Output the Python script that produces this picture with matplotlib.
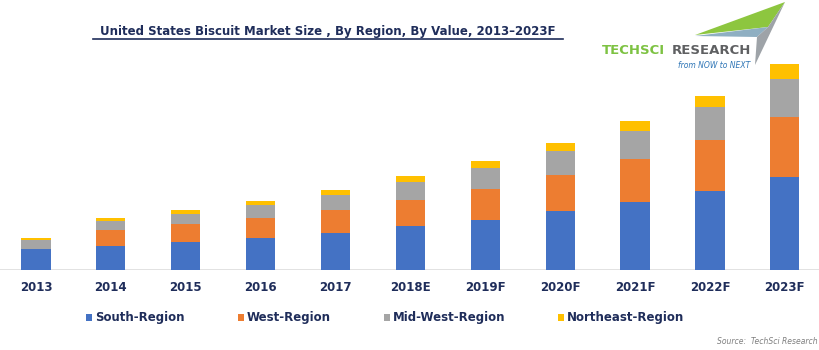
import matplotlib
matplotlib.use('Agg')
import matplotlib.pyplot as plt
from matplotlib.patches import Polygon
import numpy as np

# data (arbitrary units)
years = ['2013', '2014', '2015', '2016', '2017', '2018E', '2019F', '2020F', '2021F', '2022F', '2023F']
south = [20.7, 24.0, 28.0, 31.3, 36.3, 43.3, 50.0, 58.3, 67.3, 78.3, 92.3]
west = [0.0, 15.7, 17.3, 20.4, 23.4, 26.7, 31.0, 36.4, 43.0, 51.4, 60.0]
midwest = [9.3, 9.3, 10.4, 12.6, 14.6, 17.3, 21.0, 23.6, 28.4, 32.6, 38.4]
northeast = [1.7, 2.3, 4.0, 4.7, 5.7, 6.7, 6.3, 8.4, 10.0, 11.7, 14.6]

series = ['South-Region', 'West-Region', 'Mid-West-Region', 'Northeast-Region']
colors = ['#4472C4', '#ED7D31', '#A5A5A5', '#FFC000']
navy = '#1F2D5A'

W, H = 820, 350
fig = plt.figure(figsize=(W / 100, H / 100), dpi=100)

# main chart
ax = fig.add_axes([0, 80.5 / H, 1, 220 / H])
x = np.arange(len(years))
bottom = np.zeros(len(years))
bars = []
for vals, c, name in zip([south, west, midwest, northeast], colors, series):
    b = ax.bar(x, vals, width=0.39, bottom=bottom, color=c, label=name, zorder=2)
    bars.append(b)
    bottom += np.array(vals)

ax.set_xlim(-0.48, 10.47)
ax.set_ylim(0, 220)
ax.axhline(0, color='#D9D9D9', lw=1.8, zorder=1)
for s in ax.spines.values():
    s.set_visible(False)
ax.set_yticks([])
ax.set_xticks(x)
ax.set_xticklabels(years, fontsize=8.5, fontweight='bold', color=navy)
ax.tick_params(axis='x', length=0, pad=8)
ax.patch.set_alpha(0)

leg = fig.legend(handles=bars, labels=series, loc='center', bbox_to_anchor=(0.47, 32 / H),
                 ncol=4, frameon=False, handlelength=0.5, handleheight=0.5,
                 handletextpad=0.25, columnspacing=4.5,
                 prop={'size': 8.5, 'weight': 'bold'})
for t in leg.get_texts():
    t.set_color(navy)

# overlay in pixel coordinates for title / logo / source
ov = fig.add_axes([0, 0, 1, 1], zorder=5)
ov.set_xlim(0, W)
ov.set_ylim(H, 0)
ov.axis('off')
ov.patch.set_alpha(0)

ov.text(328, 31, 'United States Biscuit Market Size , By Region, By Value, 2013\u20132023F',
        ha='center', va='center', fontsize=8.5, fontweight='bold', color=navy)
ov.plot([93, 563], [39, 39], color=navy, lw=1.2)

# logo
ov.add_patch(Polygon([(695, 35), (785, 2), (768, 27)], closed=True, color='#8DC63F', lw=0))
ov.add_patch(Polygon([(695, 36), (768, 27), (757, 37)], closed=True, color='#8FAFC2', lw=0))
ov.add_patch(Polygon([(757, 37), (768, 27), (785, 2), (755, 65)], closed=True, color='#9EA3A8', lw=0))
ov.text(602, 50, 'TECHSCI', ha='left', va='center', fontsize=9.5, fontweight='bold',
        color='#7DC242')
ov.text(751, 50, 'RESEARCH', ha='right', va='center', fontsize=9.5, fontweight='bold',
        color='#5F6062')
ov.text(750, 66, 'from NOW to NEXT', ha='right', va='center', fontsize=5.5,
        style='italic', color='#2E75B6')

ov.text(818, 341, 'Source:  TechSci Research', ha='right', va='center', fontsize=5.5,
        style='italic', color='#7F7F7F')

fig.savefig('out.png', dpi=100, facecolor='white')
